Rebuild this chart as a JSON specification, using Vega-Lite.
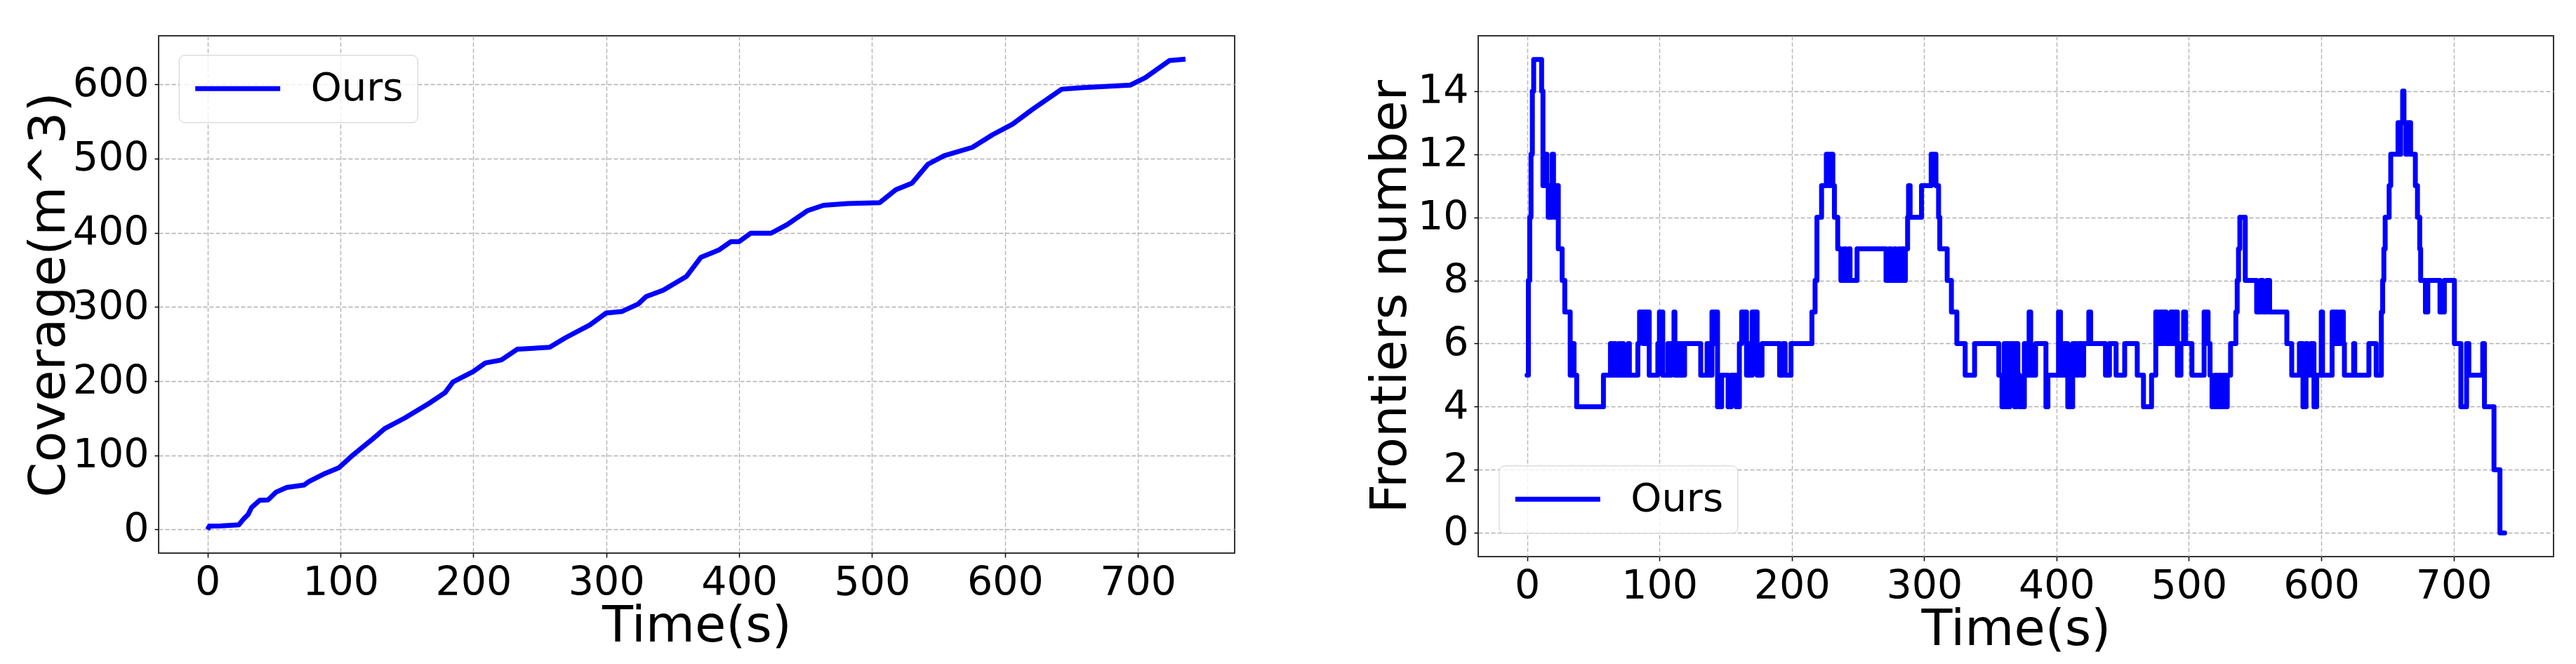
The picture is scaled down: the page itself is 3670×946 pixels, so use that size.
{
  "$schema": "https://vega.github.io/schema/vega-lite/v6.json",
  "background": "white",
  "autosize": {"type": "pad"},
  "padding": {"left": 32, "top": 50, "right": 33, "bottom": 10},
  "config": {
    "font": "DejaVu Sans",
    "view": {"stroke": "#333333", "strokeWidth": 2},
    "axis": {
      "labelFont": "DejaVu Sans", "labelFontSize": 57, "labelColor": "black",
      "titleFont": "DejaVu Sans", "titleFontSize": 72, "titleFontWeight": "normal", "titleColor": "black",
      "tickColor": "black", "tickSize": 6, "tickWidth": 1.5, "labelPadding": 8,
      "domain": false, "grid": true, "gridColor": "#b0b0b0", "gridDash": [6, 3], "gridWidth": 1.3,
      "labelFlush": false, "labelOverlap": false
    },
    "legend": {
      "orient": "none", "title": null, "symbolType": "stroke", "symbolSize": 14641, "symbolStrokeWidth": 7,
      "labelFont": "DejaVu Sans", "labelFontSize": 56, "labelColor": "black", "padding": 20,
      "strokeColor": "#cccccc", "fillColor": "rgba(255,255,255,0.8)", "cornerRadius": 8, "labelOffset": 40, "clipHeight": 56
    }
  },
  "datasets": {
    "coverage": [
      {"t": 0, "v": 0}, {"t": 1.4, "v": 4.7}, {"t": 10, "v": 5}, {"t": 23.5, "v": 6.4}, {"t": 27, "v": 14},
      {"t": 30.6, "v": 20.6}, {"t": 33.2, "v": 30}, {"t": 39.3, "v": 39.5}, {"t": 45.5, "v": 40}, {"t": 51.6, "v": 50.5},
      {"t": 59.5, "v": 56.8}, {"t": 72.7, "v": 60}, {"t": 76.2, "v": 64.6}, {"t": 88.5, "v": 75.7}, {"t": 99, "v": 83.5},
      {"t": 109.6, "v": 100.8}, {"t": 124.2, "v": 122}, {"t": 133.3, "v": 136}, {"t": 148.4, "v": 150.4}, {"t": 166.6, "v": 170},
      {"t": 178.7, "v": 184.6}, {"t": 184.7, "v": 199}, {"t": 199.9, "v": 213}, {"t": 209, "v": 224.5}, {"t": 221, "v": 228.5},
      {"t": 233, "v": 243}, {"t": 257.4, "v": 245.6}, {"t": 269.5, "v": 258.7}, {"t": 287.7, "v": 275.8}, {"t": 299.8, "v": 291.7},
      {"t": 311.9, "v": 294}, {"t": 324, "v": 304}, {"t": 330, "v": 314}, {"t": 342.8, "v": 322.5}, {"t": 360.4, "v": 341.3},
      {"t": 371.3, "v": 367}, {"t": 384.6, "v": 376.6}, {"t": 393.7, "v": 388}, {"t": 399.8, "v": 388}, {"t": 408.8, "v": 399.4},
      {"t": 424, "v": 399.4}, {"t": 436, "v": 410.8}, {"t": 451.2, "v": 429.6}, {"t": 463.4, "v": 437}, {"t": 481.5, "v": 439.3},
      {"t": 505.7, "v": 440.5}, {"t": 517.9, "v": 458}, {"t": 530, "v": 466.7}, {"t": 542, "v": 492.3}, {"t": 554.2, "v": 503.7},
      {"t": 575.4, "v": 515}, {"t": 590.6, "v": 532}, {"t": 605.7, "v": 546.4}, {"t": 620.8, "v": 566.4}, {"t": 642.6, "v": 593.4},
      {"t": 657.2, "v": 595.5}, {"t": 694.4, "v": 599}, {"t": 705.6, "v": 609}, {"t": 723.7, "v": 632}, {"t": 735.8, "v": 634}
    ],
    "frontiers": [
      {"t": 0, "v": 5}, {"t": 1, "v": 8}, {"t": 2, "v": 10}, {"t": 3, "v": 12}, {"t": 4, "v": 14}, {"t": 5, "v": 15},
      {"t": 11, "v": 14}, {"t": 12, "v": 11}, {"t": 14, "v": 12}, {"t": 15, "v": 11}, {"t": 16, "v": 10}, {"t": 17, "v": 11},
      {"t": 18, "v": 10}, {"t": 19, "v": 12}, {"t": 20, "v": 11}, {"t": 21, "v": 10}, {"t": 22, "v": 11}, {"t": 23.6, "v": 9},
      {"t": 26.5, "v": 8}, {"t": 28.5, "v": 7}, {"t": 32.6, "v": 5}, {"t": 34, "v": 6}, {"t": 35.5, "v": 5}, {"t": 37.5, "v": 4},
      {"t": 57.7, "v": 5}, {"t": 63, "v": 6}, {"t": 64.3, "v": 5}, {"t": 65.5, "v": 6}, {"t": 66.7, "v": 5}, {"t": 69.1, "v": 6},
      {"t": 70, "v": 5}, {"t": 71.6, "v": 6}, {"t": 72.8, "v": 5}, {"t": 76.4, "v": 6}, {"t": 77.3, "v": 5}, {"t": 83.7, "v": 6},
      {"t": 85, "v": 7}, {"t": 87.9, "v": 6}, {"t": 88.5, "v": 7}, {"t": 89.8, "v": 6}, {"t": 90.5, "v": 7}, {"t": 92.3, "v": 5},
      {"t": 98.8, "v": 6}, {"t": 100, "v": 7}, {"t": 102.5, "v": 5}, {"t": 106.4, "v": 6}, {"t": 107.4, "v": 5}, {"t": 108.8, "v": 6},
      {"t": 111, "v": 7}, {"t": 111.7, "v": 5}, {"t": 114.2, "v": 6}, {"t": 115.4, "v": 5}, {"t": 116.6, "v": 6}, {"t": 117.5, "v": 5},
      {"t": 119, "v": 6}, {"t": 131.2, "v": 5}, {"t": 136, "v": 6}, {"t": 137.3, "v": 5}, {"t": 139.7, "v": 7}, {"t": 141, "v": 6},
      {"t": 142, "v": 7}, {"t": 143.9, "v": 4}, {"t": 147, "v": 5}, {"t": 151.9, "v": 4}, {"t": 154.3, "v": 5}, {"t": 158, "v": 4},
      {"t": 160.4, "v": 6}, {"t": 162.1, "v": 7}, {"t": 165.8, "v": 5}, {"t": 167.7, "v": 6}, {"t": 169, "v": 5}, {"t": 170.1, "v": 7},
      {"t": 173.8, "v": 5}, {"t": 177.5, "v": 6}, {"t": 190.8, "v": 5}, {"t": 193.3, "v": 6}, {"t": 195, "v": 5}, {"t": 199.4, "v": 6},
      {"t": 215.2, "v": 7}, {"t": 217.6, "v": 8}, {"t": 219, "v": 10}, {"t": 222.5, "v": 11}, {"t": 226.1, "v": 12}, {"t": 228, "v": 11},
      {"t": 229, "v": 12}, {"t": 231, "v": 11}, {"t": 232.2, "v": 10}, {"t": 234.7, "v": 9}, {"t": 237.1, "v": 8}, {"t": 239.5, "v": 9},
      {"t": 240.7, "v": 8}, {"t": 243.2, "v": 9}, {"t": 244, "v": 8}, {"t": 249.3, "v": 9}, {"t": 271.2, "v": 8}, {"t": 273.6, "v": 9},
      {"t": 274.8, "v": 8}, {"t": 277.3, "v": 9}, {"t": 278.5, "v": 8}, {"t": 280.9, "v": 9}, {"t": 281.8, "v": 8}, {"t": 283.4, "v": 9},
      {"t": 284.6, "v": 8}, {"t": 285.8, "v": 9}, {"t": 287.5, "v": 10}, {"t": 288.2, "v": 11}, {"t": 289.4, "v": 10}, {"t": 298, "v": 11},
      {"t": 305.3, "v": 12}, {"t": 308.9, "v": 11}, {"t": 310.9, "v": 10}, {"t": 311.8, "v": 9}, {"t": 317.4, "v": 8}, {"t": 320.6, "v": 7},
      {"t": 324.7, "v": 6}, {"t": 331, "v": 5}, {"t": 338.1, "v": 6}, {"t": 356.4, "v": 5}, {"t": 358.8, "v": 4}, {"t": 360.5, "v": 6},
      {"t": 361.5, "v": 4}, {"t": 362.5, "v": 6}, {"t": 363.5, "v": 4}, {"t": 364.7, "v": 6}, {"t": 365.9, "v": 5}, {"t": 367.2, "v": 6},
      {"t": 368.4, "v": 4}, {"t": 369.6, "v": 6}, {"t": 370.8, "v": 5}, {"t": 372, "v": 4}, {"t": 375.7, "v": 6}, {"t": 376.5, "v": 5},
      {"t": 379.3, "v": 7}, {"t": 380.5, "v": 5}, {"t": 384.2, "v": 6}, {"t": 392, "v": 4}, {"t": 393.5, "v": 5}, {"t": 401.5, "v": 7},
      {"t": 403, "v": 5}, {"t": 404, "v": 6}, {"t": 405, "v": 5}, {"t": 406, "v": 6}, {"t": 408.5, "v": 4}, {"t": 412.2, "v": 6},
      {"t": 415, "v": 5}, {"t": 416.5, "v": 6}, {"t": 419, "v": 5}, {"t": 420.5, "v": 6}, {"t": 424.4, "v": 7}, {"t": 425.8, "v": 6},
      {"t": 437, "v": 5}, {"t": 440, "v": 6}, {"t": 445, "v": 5}, {"t": 451.5, "v": 6}, {"t": 461, "v": 5}, {"t": 465.7, "v": 4},
      {"t": 471.8, "v": 5}, {"t": 475, "v": 7}, {"t": 477, "v": 6}, {"t": 478.5, "v": 7}, {"t": 480, "v": 6}, {"t": 481, "v": 7},
      {"t": 482.8, "v": 6}, {"t": 486.4, "v": 7}, {"t": 488, "v": 6}, {"t": 489.5, "v": 7}, {"t": 491.3, "v": 5}, {"t": 494, "v": 6},
      {"t": 496, "v": 7}, {"t": 497.5, "v": 6}, {"t": 502.3, "v": 5}, {"t": 511.5, "v": 7}, {"t": 514.5, "v": 6}, {"t": 516, "v": 5},
      {"t": 517.5, "v": 4}, {"t": 520, "v": 5}, {"t": 521, "v": 4}, {"t": 523, "v": 5}, {"t": 524, "v": 4}, {"t": 526, "v": 5},
      {"t": 527, "v": 4}, {"t": 529, "v": 5}, {"t": 531.5, "v": 6}, {"t": 535.5, "v": 7}, {"t": 536.5, "v": 8}, {"t": 537.5, "v": 9},
      {"t": 538.5, "v": 10}, {"t": 542.6, "v": 8}, {"t": 551.2, "v": 7}, {"t": 554, "v": 8}, {"t": 556, "v": 7}, {"t": 559, "v": 8},
      {"t": 561, "v": 7}, {"t": 574, "v": 6}, {"t": 577.7, "v": 5}, {"t": 583.5, "v": 6}, {"t": 586.2, "v": 4}, {"t": 588.5, "v": 6},
      {"t": 589.5, "v": 5}, {"t": 592, "v": 6}, {"t": 594.5, "v": 4}, {"t": 596.5, "v": 5}, {"t": 600, "v": 7}, {"t": 601, "v": 5},
      {"t": 608.2, "v": 7}, {"t": 609.8, "v": 6}, {"t": 611, "v": 7}, {"t": 612.5, "v": 6}, {"t": 614.5, "v": 7}, {"t": 616.7, "v": 6},
      {"t": 617.5, "v": 5}, {"t": 624.5, "v": 6}, {"t": 625.3, "v": 5}, {"t": 636, "v": 6}, {"t": 641.5, "v": 5}, {"t": 645.4, "v": 7},
      {"t": 646.4, "v": 8}, {"t": 647.3, "v": 9}, {"t": 648.3, "v": 10}, {"t": 651.3, "v": 11}, {"t": 652.5, "v": 12}, {"t": 658, "v": 13},
      {"t": 659, "v": 12}, {"t": 660, "v": 13}, {"t": 661.5, "v": 14}, {"t": 662.5, "v": 13}, {"t": 664, "v": 12}, {"t": 665, "v": 13},
      {"t": 667.5, "v": 12}, {"t": 671.1, "v": 11}, {"t": 672.7, "v": 10}, {"t": 674.4, "v": 9}, {"t": 675.1, "v": 8}, {"t": 678.7, "v": 7},
      {"t": 680.5, "v": 8}, {"t": 689.7, "v": 7}, {"t": 693, "v": 8}, {"t": 700.6, "v": 6}, {"t": 705.5, "v": 4}, {"t": 709.8, "v": 6},
      {"t": 711.5, "v": 5}, {"t": 722, "v": 6}, {"t": 723.3, "v": 4}, {"t": 730.5, "v": 2}, {"t": 735, "v": 0}, {"t": 738.6, "v": 0}
    ]
  },
  "spacing": 347,
  "bounds": "flush",
  "resolve": {"scale": {"color": "independent"}, "legend": {"color": "independent"}},
  "hconcat": [
    {
      "width": 1533,
      "height": 737,
      "data": {"name": "coverage"},
      "mark": {"type": "line", "strokeWidth": 7, "strokeJoin": "round", "strokeCap": "butt", "clip": true},
      "encoding": {
        "x": {
          "field": "t", "type": "quantitative",
          "scale": {"domain": [-36.8, 772.8], "nice": false, "zero": false},
          "axis": {"title": "Time(s)", "values": [0, 100, 200, 300, 400, 500, 600, 700], "titleY": 125.4, "titleBaseline": "alphabetic"}
        },
        "y": {
          "field": "v", "type": "quantitative",
          "scale": {"domain": [-31.7, 665.4], "nice": false, "zero": false},
          "axis": {"title": "Coverage(m^3)", "values": [0, 100, 200, 300, 400, 500, 600], "titleX": -135, "titleBaseline": "alphabetic"}
        },
        "color": {
          "datum": "Ours", "type": "nominal",
          "scale": {"range": ["#0000ff"]},
          "legend": {"legendX": 28.7, "legendY": 27.3}
        }
      }
    },
    {
      "width": 1532,
      "height": 742,
      "data": {"name": "frontiers"},
      "mark": {"type": "line", "interpolate": "step-after", "strokeWidth": 7, "strokeJoin": "round", "strokeCap": "round", "clip": true},
      "encoding": {
        "x": {
          "field": "t", "type": "quantitative",
          "scale": {"domain": [-36.9, 775.5], "nice": false, "zero": false},
          "axis": {"title": "Time(s)", "values": [0, 100, 200, 300, 400, 500, 600, 700], "titleY": 125.4, "titleBaseline": "alphabetic"}
        },
        "y": {
          "field": "v", "type": "quantitative",
          "scale": {"domain": [-0.75, 15.75], "nice": false, "zero": false},
          "axis": {"title": "Frontiers number", "values": [0, 2, 4, 6, 8, 10, 12, 14], "titleX": -104, "titleBaseline": "alphabetic"}
        },
        "color": {
          "datum": "Ours", "type": "nominal",
          "scale": {"range": ["#0000ff"]},
          "legend": {"legendX": 29.3, "legendY": 612.3}
        }
      }
    }
  ]
}
